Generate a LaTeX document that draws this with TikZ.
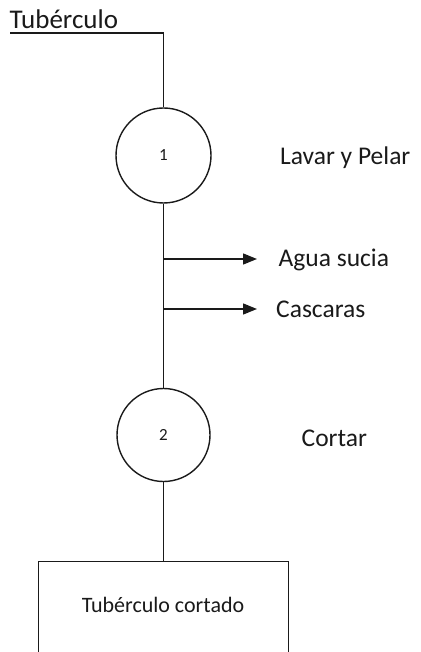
\documentclass[tikz,border=0pt]{standalone}
\usepackage{fontspec}
\setmainfont{Carlito}
\usetikzlibrary{arrows.meta}
\definecolor{ink}{HTML}{1A1A1A}
\begin{document}
\begin{tikzpicture}[x=1pt,y=-1pt,
  line/.style={draw=ink,line width=1.4pt},
  flow/.style={line,-{Triangle[length=14pt,width=11pt]}},
  opcircle/.style={circle,draw=ink,line width=1.4pt,minimum size=95pt,inner sep=0pt,
    font=\fontsize{17}{20}\selectfont,text=ink},
  label/.style={inner sep=0pt,font=\fontsize{25.5}{30}\selectfont,text=ink},
  boxtext/.style={inner sep=0pt,font=\fontsize{22}{26}\selectfont,text=ink},
  product/.style={rectangle,draw=ink,line width=1.4pt,minimum width=250pt,minimum height=140pt,inner sep=0pt}]
  \clip (0,0) rectangle (420,652);
  \fill[white] (0,0) rectangle (420,652);

  % raw material entering the process
  \node[label,anchor=base west,font=\fontsize{27}{30}\selectfont] (raw) at (9.5,28.5) {Tubérculo};
  \coordinate (start) at (10,33);

  % operations
  \node[opcircle] (op1) at (163.5,155.5) {1};
  \node[opcircle,minimum size=93pt] (op2) at (163.5,435) {2};
  \node[label,anchor=base west] (op1name) at (280,165) {Lavar y Pelar};
  \node[label,anchor=base west] (op2name) at (301.5,446) {Cortar};

  % outputs of washing and peeling
  \coordinate (b1) at (163.5,259);
  \coordinate (b2) at (163.5,309);
  \node[label,anchor=base west] (water) at (278.5,266.5) {Agua sucia};
  \node[label,anchor=base west] (peel) at (276,317) {Cascaras};

  % final product
  \node[product,anchor=north] (prod) at (163.5,561) {};
  \node[boxtext,anchor=base] (prodname) at (163,612.7) {Tubérculo cortado};

  % connectors
  \draw[line] (start) -| (op1.north);
  \draw[line] (op1.south) -- (op2.north);
  \draw[line] (op2.south) -- (prod.north);
  \draw[flow] (b1) -- (b1 -| 257,0);
  \draw[flow] (b2) -- (b2 -| 257,0);
\end{tikzpicture}
\end{document}
